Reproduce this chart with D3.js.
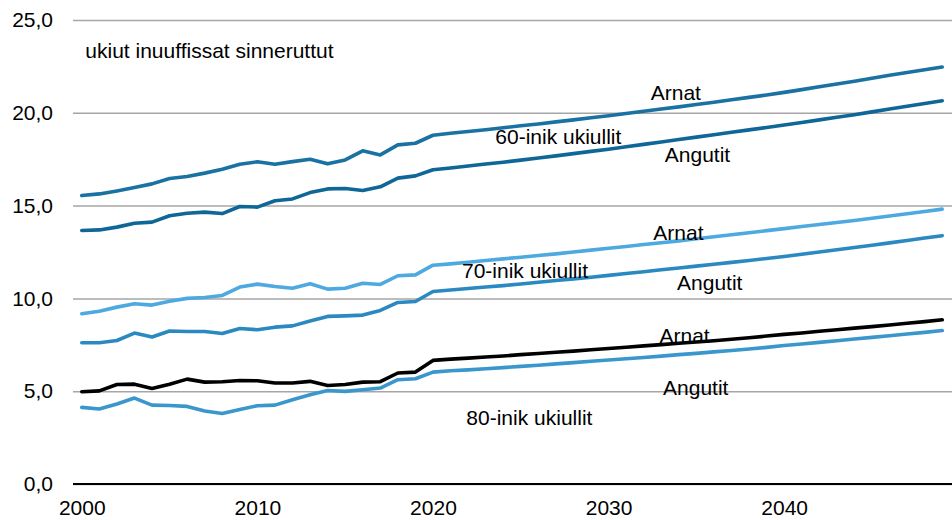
<!DOCTYPE html>
<html>
<head>
<meta charset="utf-8">
<script src="https://cdn.jsdelivr.net/npm/d3@7"></script>
<style>
    body { margin: 0; background: #fff; }
    svg { display: block; font-family: "Liberation Sans", Arial, sans-serif; }
    .axis text { font-size: 21px; fill: #000; }
</style>
</head>
<body>
<div id="chart"></div>
<script>

// Years on the x-axis, 2000 .. 2049
var years = [
    2000, 2001, 2002, 2003, 2004, 2005, 2006, 2007, 2008, 2009,
    2010, 2011, 2012, 2013, 2014, 2015, 2016, 2017, 2018, 2019,
    2020, 2021, 2022, 2023, 2024, 2025, 2026, 2027, 2028, 2029,
    2030, 2031, 2032, 2033, 2034, 2035, 2036, 2037, 2038, 2039,
    2040, 2041, 2042, 2043, 2044, 2045, 2046, 2047, 2048, 2049
];

// 60-inik ukiullit - Arnat
var women60 = [
    15.54, 15.63, 15.79, 15.97, 16.17, 16.46, 16.57, 16.75, 16.96, 17.23,
    17.36, 17.23, 17.37, 17.50, 17.25, 17.46, 17.95, 17.73, 18.27, 18.36,
    18.79, 18.90, 18.99, 19.09, 19.19, 19.30, 19.40, 19.51, 19.62, 19.73,
    19.84, 19.96, 20.08, 20.20, 20.32, 20.45, 20.57, 20.70, 20.83, 20.96,
    21.10, 21.25, 21.40, 21.55, 21.70, 21.86, 22.02, 22.17, 22.32, 22.47
];

// 60-inik ukiullit - Angutit
var men60 = [
    13.66, 13.69, 13.84, 14.05, 14.11, 14.45, 14.59, 14.65, 14.57, 14.95,
    14.92, 15.26, 15.36, 15.70, 15.90, 15.92, 15.81, 16.01, 16.48, 16.60,
    16.93, 17.03, 17.13, 17.24, 17.34, 17.45, 17.56, 17.68, 17.80, 17.92,
    18.04, 18.17, 18.30, 18.43, 18.56, 18.69, 18.82, 18.95, 19.08, 19.21,
    19.34, 19.48, 19.62, 19.76, 19.90, 20.05, 20.20, 20.35, 20.50, 20.65
];

// 70-inik ukiullit - Arnat
var women70 = [
    9.17, 9.31, 9.53, 9.71, 9.64, 9.85, 10.00, 10.05, 10.16, 10.61,
    10.77, 10.64, 10.55, 10.79, 10.50, 10.55, 10.82, 10.75, 11.22, 11.27,
    11.79, 11.86, 11.95, 12.04, 12.13, 12.22, 12.31, 12.40, 12.50, 12.60,
    12.70, 12.80, 12.90, 13.00, 13.10, 13.21, 13.32, 13.43, 13.54, 13.65,
    13.76, 13.87, 13.98, 14.09, 14.20, 14.32, 14.44, 14.56, 14.68, 14.81
];

// 70-inik ukiullit - Angutit
var men70 = [
    7.61, 7.61, 7.73, 8.13, 7.92, 8.24, 8.22, 8.22, 8.11, 8.38,
    8.31, 8.45, 8.52, 8.78, 9.03, 9.06, 9.10, 9.35, 9.78, 9.83,
    10.37, 10.45, 10.53, 10.61, 10.69, 10.78, 10.87, 10.96, 11.05, 11.14,
    11.24, 11.34, 11.44, 11.54, 11.64, 11.74, 11.84, 11.94, 12.04, 12.15,
    12.26, 12.38, 12.50, 12.62, 12.74, 12.86, 12.99, 13.12, 13.25, 13.38
];

// 80-inik ukiullit - Arnat
var women80 = [
    4.97, 5.02, 5.36, 5.38, 5.15, 5.38, 5.65, 5.49, 5.51, 5.58,
    5.56, 5.44, 5.44, 5.53, 5.31, 5.36, 5.49, 5.51, 5.98, 6.03,
    6.66, 6.73, 6.78, 6.84, 6.90, 6.97, 7.03, 7.10, 7.16, 7.23,
    7.30, 7.37, 7.44, 7.51, 7.58, 7.65, 7.72, 7.80, 7.88, 7.97,
    8.06, 8.14, 8.23, 8.31, 8.40, 8.48, 8.57, 8.66, 8.75, 8.85
];

// 80-inik ukiullit - Angutit
var men80 = [
    4.13, 4.04, 4.31, 4.63, 4.25, 4.23, 4.18, 3.93, 3.80, 4.02,
    4.22, 4.25, 4.54, 4.81, 5.04, 4.99, 5.08, 5.17, 5.62, 5.67,
    6.03, 6.10, 6.15, 6.21, 6.27, 6.34, 6.40, 6.47, 6.54, 6.61,
    6.68, 6.75, 6.82, 6.89, 6.97, 7.04, 7.12, 7.19, 7.27, 7.36,
    7.46, 7.54, 7.63, 7.72, 7.81, 7.90, 7.99, 8.08, 8.17, 8.27
];

var yTicks = [0, 5, 10, 15, 20, 25];
var xTicks = [2000, 2010, 2020, 2030, 2040];

// Text labels placed in data units (year, value at baseline)
var labelText = [
    "ukiut inuuffissat sinneruttut",
    "Arnat", "60-inik ukiullit", "Angutit",
    "Arnat", "70-inik ukiullit", "Angutit",
    "Arnat", "Angutit", "80-inik ukiullit"
];
var labelYear = [2000.2, 2032.4, 2023.55, 2033.2, 2032.55, 2021.65, 2033.9, 2032.9, 2033.1, 2021.9];
var labelValue = [22.96, 20.69, 18.33, 17.37, 13.12, 11.09, 10.46, 7.59, 4.81, 3.19];


var width = 952, height = 520;
var margin = {top: 20, right: 1, bottom: 36, left: 73};

var svg = d3.select("#chart")
    .append("svg")
    .attr("width", width)
    .attr("height", height);

// Category-style x-axis: each year sits in the middle of its slot
var xScale = d3.scalePoint()
    .domain(years)
    .range([margin.left, width - margin.right])
    .padding(0.5);

var yScale = d3.scaleLinear()
    .domain([0, 25])
    .range([height - margin.bottom, margin.top]);

// Labels use a fractional year, so convert through the point scale
function xAt(year) {
    return xScale(years[0]) + (year - years[0]) * xScale.step();
}

// Comma as the decimal separator
var locale = d3.formatLocale({decimal: ",", thousands: ".", grouping: [3], currency: ["", ""]});
var fmt = locale.format(".1f");

// Y-axis with gridlines
var yAxis = svg.append("g")
    .attr("class", "y axis")
    .attr("transform", "translate(" + margin.left + ",0)")
    .call(d3.axisLeft(yScale)
        .tickValues(yTicks)
        .tickSize(-(width - margin.left))
        .tickPadding(20)
        .tickFormat(fmt));

yAxis.select(".domain").remove();
yAxis.selectAll(".tick line")
    .attr("stroke", "#a6a6a6")
    .attr("stroke-width", 1.5);

// Black zero line
svg.append("line")
    .attr("x1", margin.left)
    .attr("x2", width)
    .attr("y1", yScale(0))
    .attr("y2", yScale(0))
    .attr("stroke", "#000")
    .attr("stroke-width", 2.2);

// X-axis labels only
var xAxis = svg.append("g")
    .attr("class", "x axis")
    .attr("transform", "translate(0," + yScale(0) + ")")
    .call(d3.axisBottom(xScale)
        .tickValues(xTicks)
        .tickSize(0)
        .tickPadding(16));

xAxis.select(".domain").remove();

// Lines
var series = [
    {values: women60, colour: "#1a72a3"},
    {values: men60, colour: "#0e6797"},
    {values: women70, colour: "#4ea9e0"},
    {values: men70, colour: "#2b89c1"},
    {values: men80, colour: "#3a97cd"},
    {values: women80, colour: "#000000"}
];

var line = d3.line()
    .x(function(d, i) { return xScale(years[i]); })
    .y(function(d) { return yScale(d); });

series.forEach(function(s) {
    svg.append("path")
        .datum(s.values)
        .attr("fill", "none")
        .attr("stroke", s.colour)
        .attr("stroke-width", 3.6)
        .attr("stroke-linejoin", "round")
        .attr("stroke-linecap", "round")
        .attr("d", line);
});

// Text annotations
labelText.forEach(function(t, i) {
    svg.append("text")
        .attr("x", xAt(labelYear[i]))
        .attr("y", yScale(labelValue[i]))
        .attr("font-size", "21px")
        .attr("fill", "#000")
        .text(t);
});

</script>
</body>
</html>
